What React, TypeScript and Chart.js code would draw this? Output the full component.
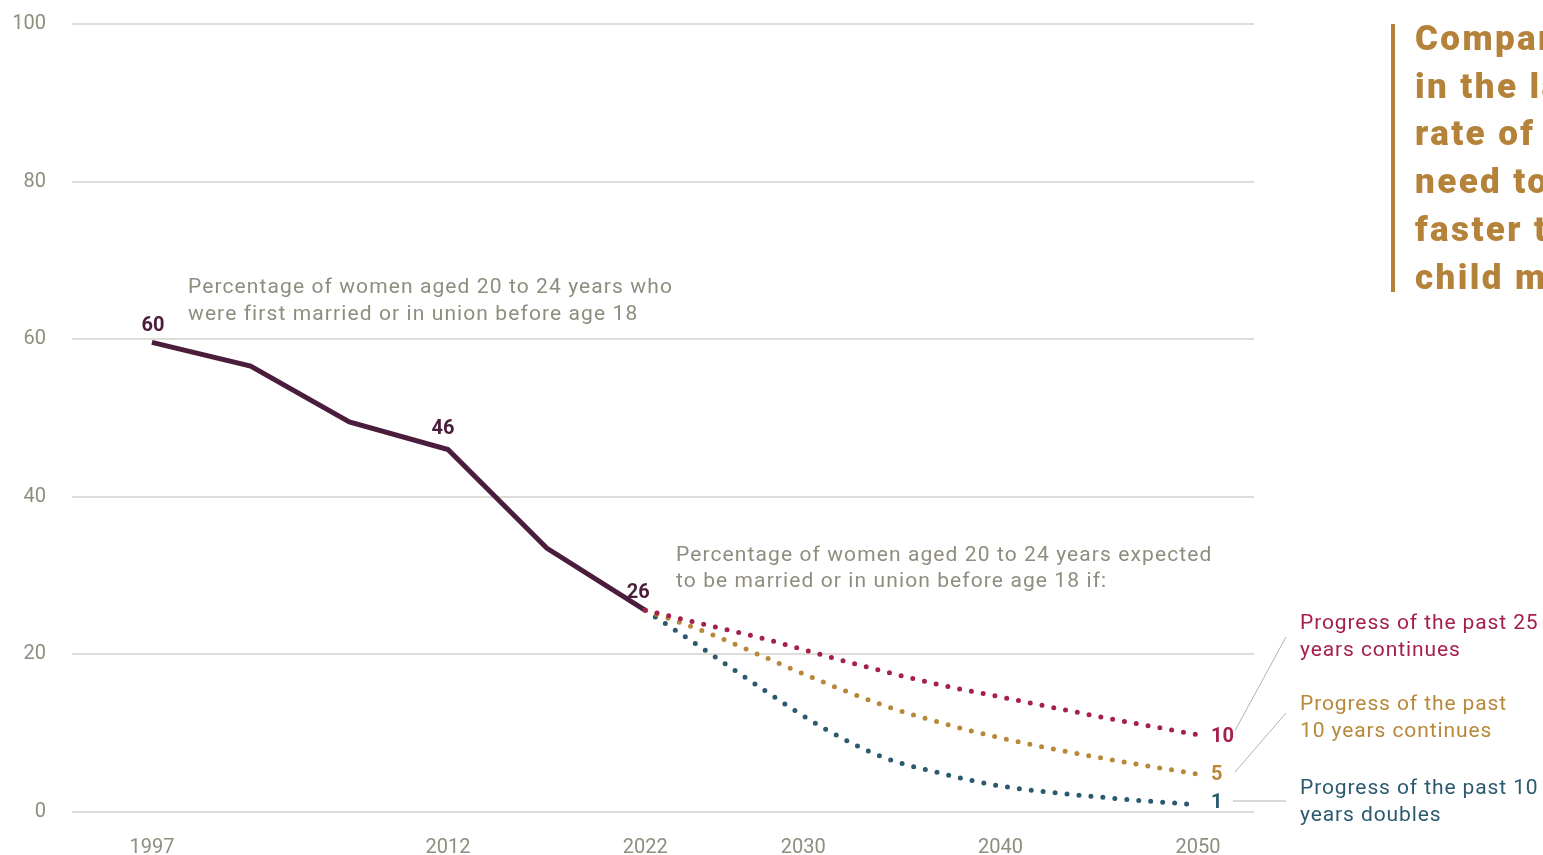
import React, { useEffect, useRef } from "react";
import { Chart, registerables } from "chart.js";

Chart.register(...registerables);

// ---------- data ----------
const histYears = [1997, 2002, 2007, 2012, 2017, 2022];
const histValues = [59.6, 56.6, 49.5, 46.0, 33.5, 25.6];

const projYears = [2022, 2025, 2028, 2031, 2034, 2037, 2040, 2045, 2050];
const past25Continues = [25.6, 23.8, 22.0, 19.9, 17.9, 16.1, 14.6, 12.1, 9.8];
const past10Continues = [25.6, 22.9, 19.7, 16.5, 13.6, 11.3, 9.4, 6.9, 4.8];
const past10Doubles = [25.6, 20.6, 15.5, 10.7, 7.0, 4.9, 3.3, 1.9, 0.9];

const xTickYears = [1997, 2012, 2022, 2030, 2040, 2050];
const yTickValues = [0, 20, 40, 60, 80, 100];

const histLabelYears = [1997, 2012, 2022];
const histLabelTexts = ["60", "46", "26"];
const endLabelTexts = ["10", "5", "1"];

const seriesNames = [
  ["Progress of the past 25", "years continues"],
  ["Progress of the past", "10 years continues"],
  ["Progress of the past 10", "years doubles"],
];

const noteHistorical = [
  "Percentage of women aged 20 to 24 years who",
  "were first married or in union before age 18",
];
const noteProjection = [
  "Percentage of women aged 20 to 24 years expected",
  "to be married or in union before age 18 if:",
];
const titleLines = [
  "Compared with progress",
  "in the last decade, the",
  "rate of decline would",
  "need to be many times",
  "faster to end",
  "child marriage",
];

// ---------- styles ----------
const PURPLE = "#4b1d3c";
const RED = "#a5204a";
const GOLD = "#b8883a";
const TEAL = "#2b5a6e";
const GRAY_TEXT = "#8f8d7e";
const GRID = "#dddcd6";
const LEADER = "#b4b3ab";
const TITLE_GOLD = "#b5823a";
const FONT = "Roboto, 'Open Sans', sans-serif";

const seriesColors = [RED, GOLD, TEAL];

const annotationPlugin = {
  id: "annotations",
  afterDatasetsDraw(chart: any) {
    const { ctx } = chart;
    const x = chart.scales.x;
    const y = chart.scales.y;
    ctx.save();

    // labels on historical line
    ctx.font = `bold 20px ${FONT}`;
    ctx.fillStyle = PURPLE;
    ctx.textAlign = "center";
    ctx.textBaseline = "middle";
    const offs = [
      [1, -16],
      [-5, -21],
      [-7, -17],
    ];
    histLabelYears.forEach((yr, i) => {
      const idx = histYears.indexOf(yr);
      const px = x.getPixelForValue(yr);
      const py = y.getPixelForValue(histValues[idx]);
      ctx.fillText(histLabelTexts[i], px + offs[i][0], py + offs[i][1]);
    });

    // end labels for projections
    const projSeries = [past25Continues, past10Continues, past10Doubles];
    const endX = x.getPixelForValue(projYears[projYears.length - 1]);
    ctx.textAlign = "left";
    const endDy = [2, 1, -2];
    projSeries.forEach((s, i) => {
      const py = y.getPixelForValue(s[s.length - 1]);
      ctx.fillStyle = seriesColors[i];
      ctx.fillText(endLabelTexts[i], endX + 13, py + endDy[i]);
    });

    // leader lines
    ctx.strokeStyle = LEADER;
    ctx.lineWidth = 1;
    const lx0 = endX + 37;
    const lx1 = endX + 88;
    const legendTop = [624, 705, 789];
    const leaders = [
      [y.getPixelForValue(past25Continues[past25Continues.length - 1]) - 4, 637],
      [y.getPixelForValue(past10Continues[past10Continues.length - 1]) - 2, 713],
      [801, 801],
    ];
    leaders.forEach(([a, b], i) => {
      ctx.beginPath();
      ctx.moveTo(i === 2 ? lx0 - 2 : lx0, a);
      ctx.lineTo(lx1, b);
      ctx.stroke();
    });

    // legend texts
    ctx.font = `21px ${FONT}`;
    (ctx as any).letterSpacing = "0.9px";
    seriesNames.forEach((lines, i) => {
      ctx.fillStyle = seriesColors[i];
      lines.forEach((t, j) => ctx.fillText(t, 1300, legendTop[i] + j * 27));
    });

    // notes
    ctx.font = `21px ${FONT}`;
    (ctx as any).letterSpacing = "1.1px";
    ctx.fillStyle = GRAY_TEXT;
    noteHistorical.forEach((t, j) => ctx.fillText(t, 188, 288 + j * 27));
    noteProjection.forEach((t, j) => ctx.fillText(t, 676, 556 + j * 26));

    // right title block
    ctx.fillStyle = TITLE_GOLD;
    ctx.fillRect(1391, 24, 4, 268);
    ctx.font = `900 35px ${FONT}`;
    (ctx as any).letterSpacing = "2.4px";
    titleLines.forEach((t, j) => ctx.fillText(t, 1415, 41 + j * 47.8));

    ctx.restore();
  },
};

export default function App() {
  const canvasRef = useRef<HTMLCanvasElement | null>(null);

  useEffect(() => {
    if (!canvasRef.current) return;
    const pts = (xs: number[], ys: number[]) => xs.map((v, i) => ({ x: v, y: ys[i] }));
    const dotted = (data: number[], color: string) => ({
      data: pts(projYears, data),
      borderColor: color,
      borderWidth: 5,
      borderDash: [0, 12],
      borderCapStyle: "round" as const,
      pointRadius: 0,
      cubicInterpolationMode: "monotone" as const,
      fill: false,
    });
    const chart = new Chart(canvasRef.current, {
      type: "line",
      data: {
        datasets: [
          dotted(past25Continues, RED),
          dotted(past10Continues, GOLD),
          dotted(past10Doubles, TEAL),
          {
            data: pts(histYears, histValues),
            borderColor: PURPLE,
            borderWidth: 5,
            pointRadius: 0,
            tension: 0,
            fill: false,
          },
        ],
      },
      options: {
        responsive: true,
        maintainAspectRatio: false,
        animation: false,
        layout: { padding: { top: 24, right: 289, bottom: 0, left: 0 } },
        plugins: {
          legend: { display: false },
          tooltip: { enabled: false },
        },
        scales: {
          x: {
            type: "linear",
            min: 1992.95,
            max: 2052.84,
            grid: { display: false },
            border: { display: false },
            afterBuildTicks: (s: any) => {
              s.ticks = xTickYears.map((v) => ({ value: v }));
            },
            afterFit: (s: any) => {
              s.height = 43;
              s.paddingLeft = 0;
              s.paddingRight = 0;
            },
            ticks: {
              color: GRAY_TEXT,
              font: { size: 20, family: FONT },
              padding: 16,
              maxRotation: 0,
              autoSkip: false,
              callback: (v: any) => String(v),
            },
          },
          y: {
            min: 0,
            max: 100,
            afterBuildTicks: (s: any) => {
              s.ticks = yTickValues.map((v) => ({ value: v }));
            },
            afterFit: (s: any) => {
              s.width = 72;
              s.paddingTop = 0;
              s.paddingBottom = 0;
            },
            grid: { color: GRID, lineWidth: 2, drawTicks: false },
            border: { display: false },
            ticks: {
              color: GRAY_TEXT,
              font: { size: 20, family: FONT },
              padding: 26,
              callback: (v: any) => String(v),
            },
          },
        },
      },
      plugins: [annotationPlugin],
    });
    return () => chart.destroy();
  }, []);

  return (
    <div style={{ position: "fixed", left: 0, top: 0, width: 1543, height: 855, background: "#fff" }}>
      <canvas ref={canvasRef} />
    </div>
  );
}
